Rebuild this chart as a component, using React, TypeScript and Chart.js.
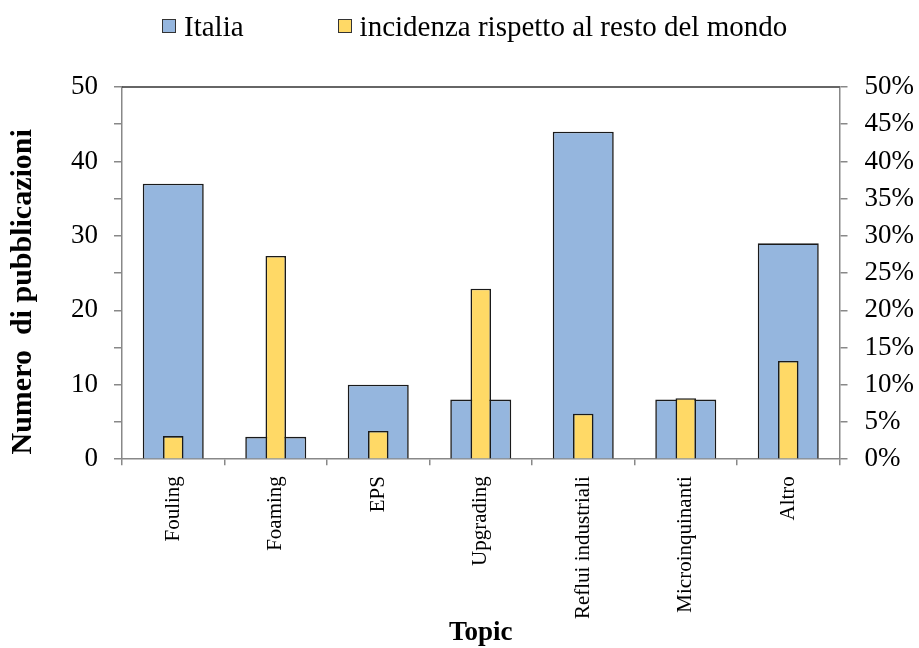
import React, { useEffect, useRef } from "react";
import { Chart, registerables } from "chart.js";

Chart.register(...registerables);

const categories = ["Fouling", "Foaming", "EPS", "Upgrading", "Reflui industriali", "Microinquinanti", "Altro"];
const italia = [37, 3, 10, 8, 44, 8, 29];
const incidenza = [3.1, 27.3, 3.8, 22.9, 6.1, 8.2, 13.2];
const seriesLabels = ["Italia", "incidenza rispetto al resto del mondo"];
const seriesColors = ["#95B6DE", "#FFD966"];
const leftAxisTitle = "Numero  di pubblicazioni     ";
const xAxisTitle = "Topic";

const SERIF = "'Liberation Serif', 'Times New Roman', serif";

const topBorder = {
  id: "topBorder",
  afterDatasetsDraw(chart: any) {
    const { ctx, chartArea } = chart;
    ctx.save();
    ctx.strokeStyle = "#333";
    ctx.lineWidth = 1.5;
    ctx.beginPath();
    ctx.moveTo(chartArea.left, chartArea.top);
    ctx.lineTo(chartArea.right, chartArea.top);
    ctx.stroke();
    ctx.restore();
  },
};

export default function App() {
  const ref = useRef<HTMLCanvasElement | null>(null);

  useEffect(() => {
    if (!ref.current) return;
    const chart = new Chart(ref.current, {
      type: "bar",
      data: {
        labels: categories,
        datasets: [
          {
            label: seriesLabels[0],
            data: italia,
            yAxisID: "y",
            backgroundColor: seriesColors[0],
            borderColor: "#1a1a1a",
            borderWidth: 1.6,
            barPercentage: 0.595,
            categoryPercentage: 1,
            grouped: false,
            order: 1,
          } as any,
          {
            label: seriesLabels[1],
            data: incidenza,
            yAxisID: "y1",
            backgroundColor: seriesColors[1],
            borderColor: "#1a1a1a",
            borderWidth: 1.6,
            barPercentage: 0.2,
            categoryPercentage: 1,
            grouped: false,
            order: 0,
          } as any,
        ],
      },
      options: {
        responsive: false,
        animation: false,
        layout: { padding: { top: 87, left: 5, right: -12, bottom: 0 } },
        plugins: { legend: { display: false }, tooltip: { enabled: false } },
        scales: {
          x: {
            type: "category",
            offset: true,
            grid: { display: true, drawOnChartArea: false, offset: true, tickLength: 6, color: "#888", lineWidth: 1.5 },
            border: { color: "#888", width: 1.5 },
            ticks: {
              minRotation: 90,
              maxRotation: 90,
              autoSkip: false,
              padding: 11,
              color: "#000",
              font: { family: SERIF, size: 21 },
            },
            title: {
              display: true,
              text: xAxisTitle,
              color: "#000",
              padding: { top: 0, bottom: 12 },
              font: { family: SERIF, size: 27, weight: "bold", lineHeight: 0.22 },
            },
          },
          y: {
            position: "left",
            min: 0,
            max: 50,
            grid: { display: true, drawOnChartArea: false, tickLength: 8, color: "#888", lineWidth: 1.5 },
            border: { color: "#888", width: 1.5 },
            ticks: {
              stepSize: 5,
              padding: 16,
              color: "#000",
              font: { family: SERIF, size: 27 },
              callback: (v: any) => (Number(v) % 10 === 0 ? String(v) : ""),
            },
            title: {
              display: true,
              text: leftAxisTitle,
              color: "#000",
              padding: { top: 0, bottom: 14 },
              font: { family: SERIF, size: 30, weight: "bold", lineHeight: 1.2 },
            },
          },
          y1: {
            position: "right",
            min: 0,
            max: 50,
            grid: { display: true, drawOnChartArea: false, tickLength: 8, color: "#888", lineWidth: 1.5 },
            border: { color: "#888", width: 1.5 },
            ticks: {
              stepSize: 5,
              padding: 17,
              color: "#000",
              font: { family: SERIF, size: 27 },
              callback: (v: any) => `${v}%`,
            },
          },
        },
      },
      plugins: [topBorder],
    });
    return () => chart.destroy();
  }, []);

  return (
    <div style={{ position: "absolute", left: 0, top: 0, width: 919, height: 648, background: "#fff" }}>
      <canvas ref={ref} width={919} height={648} style={{ display: "block" }} />
      <div
        style={{
          position: "absolute",
          top: 10,
          left: 162,
          display: "flex",
          alignItems: "center",
          gap: 94,
          fontFamily: SERIF,
          fontSize: 29,
          lineHeight: "32px",
          color: "#000",
        }}
      >
        {seriesLabels.map((lab, i) => (
          <div key={lab} style={{ display: "flex", alignItems: "center" }}>
            <span
              style={{
                display: "inline-block",
                width: 12,
                height: 12,
                border: "1px solid #333",
                background: seriesColors[i],
                marginRight: 8,
              }}
            />
            <span>{lab}</span>
          </div>
        ))}
      </div>
    </div>
  );
}
